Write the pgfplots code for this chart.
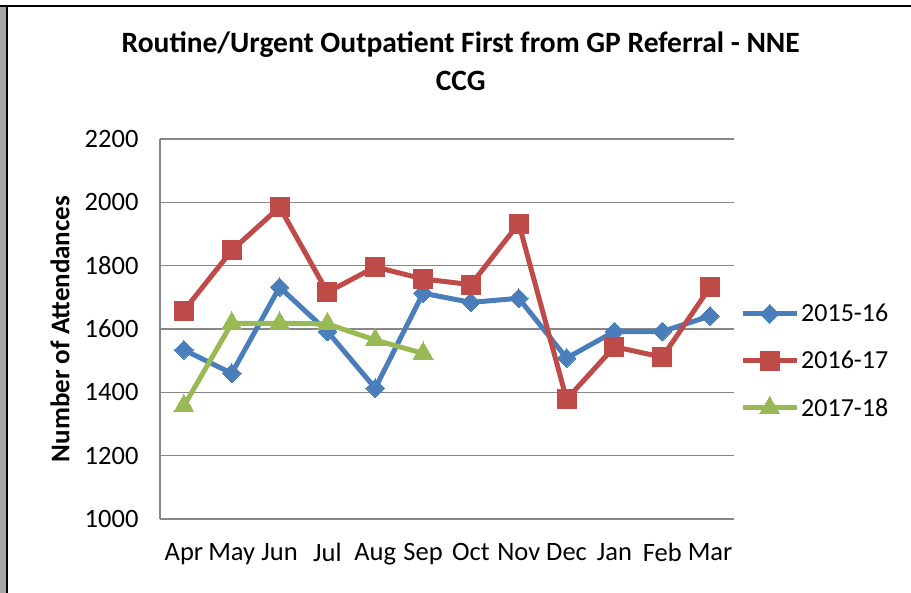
\documentclass[border=0pt]{standalone}
\usepackage{pgfplots}
\pgfplotsset{compat=1.18}
\usepackage{fontspec}
\setmainfont{Carlito}
\definecolor{sblue}{HTML}{4A7EBB}
\definecolor{sred}{HTML}{BE4B48}
\definecolor{sgreen}{HTML}{98B954}
\definecolor{gridgray}{HTML}{878787}
\begin{document}
\begin{tikzpicture}[x=1pt,y=1pt]
\useasboundingbox (0,0) rectangle (911,593);
\fill[gray!70] (0,0) rectangle (6,587);
\draw[black,line width=2pt] (7,0) -- (7,587);
\draw[black,line width=2pt] (0,587) -- (911,587);
\begin{axis}[
  at={(160pt,74pt)}, anchor=south west,
  scale only axis, width=574pt, height=380pt,
  xmin=-0.5, xmax=11.5, ymin=1000, ymax=2200,
  ytick={1000,1200,...,2200},
  xtick={0,...,11},
  xticklabels={Apr,May,Jun,Jul,Aug,Sep,Oct,Nov,Dec,Jan,Feb,Mar},
  major tick length=0pt,
  axis lines=left,
  axis line style={-, gridgray, line width=1.4pt},
  ymajorgrids, grid style={gridgray, line width=1.4pt},
  tick label style={font=\fontsize{26.5}{31}\selectfont, black},
  /pgf/number format/assume math mode=true,
  /pgf/number format/1000 sep={},
  yticklabel style={xshift=-18pt},
  xticklabel style={yshift=-21pt},
  ylabel={\textbf{Number of Attendances}},
  ylabel style={font=\fontsize{27}{31}\selectfont, at={(axis description cs:-0.174,0.5)}, anchor=center},
  title={\textbf{Routine/Urgent Outpatient First from GP Referral - NNE}\\\textbf{CCG}},
  title style={font=\fontsize{29.5}{38}\selectfont, align=center, at={(axis description cs:0.524,1.19)}, anchor=center},
  legend style={at={(axis description cs:1.0105,0.416)}, anchor=west, draw=none, fill=none,
    font=\fontsize{26}{31}\selectfont, inner sep=0pt, row sep=24pt, nodes={inner sep=2pt}},
  legend cell align=left,
  legend image code/.code={\draw[mark repeat=2,mark phase=2] plot coordinates {(0pt,0pt) (27pt,0pt) (54pt,0pt)};},
  clip=false,
]
\addplot[sblue, line width=5pt, mark=square*, mark size=6.6pt, mark options={rotate=45, solid, line width=0pt}] coordinates {
(0,1534) (1,1460) (2,1732) (3,1592) (4,1413) (5,1713) (6,1684) (7,1697) (8,1508) (9,1592) (10,1592) (11,1641)};
\addlegendentry{2015-16}
\addplot[sred, line width=5pt, mark=square*, mark size=9.5pt, mark options={solid, line width=0pt}] coordinates {
(0,1658) (1,1848) (2,1985) (3,1716) (4,1796) (5,1758) (6,1740) (7,1933) (8,1378) (9,1544) (10,1511) (11,1732)};
\addlegendentry{2016-17}
\addplot[sgreen, line width=5pt, mark=triangle*, mark size=11.5pt, mark options={solid, line width=0pt}] coordinates {
(0,1357) (1,1618) (2,1618) (3,1616) (4,1565) (5,1523)};
\addlegendentry{2017-18}
\end{axis}
\end{tikzpicture}
\end{document}
